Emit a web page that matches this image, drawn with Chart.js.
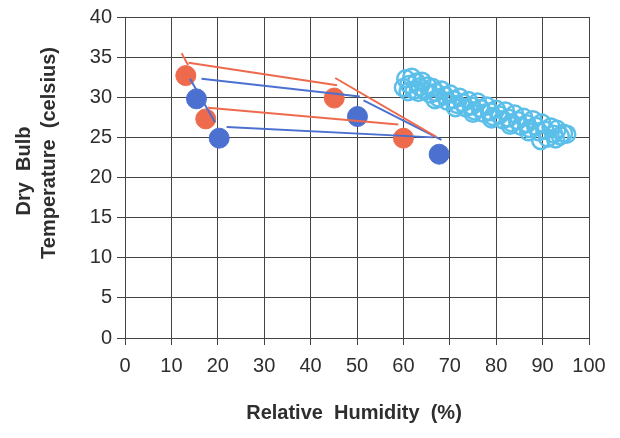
<!DOCTYPE html>
<html>
<head>
<meta charset="utf-8">
<script src="https://cdn.jsdelivr.net/npm/chart.js@4.4.1/dist/chart.umd.min.js"></script>
<style>
  html, body { margin: 0; padding: 0; background: #fff; }
  #wrap { width: 620px; height: 438px; }
</style>
</head>
<body>
<div id="wrap"><canvas id="chart" width="620" height="438"></canvas></div>
<script>
const X_TITLE = "Relative  Humidity  (%)";
const Y_TITLE = ["Dry  Bulb", "Temperature  (celsius)"];

// measured states (humidity %, temperature C)
const redX = [13.1, 17.4, 45.1, 60.0];
const redY = [32.7, 27.3, 29.9, 24.9];
const blueX = [15.4, 20.3, 50.1, 67.7];
const blueY = [29.8, 24.9, 27.6, 22.9];

// connecting lines: [x1, y1, x2, y2]
const redLines = [
  [12.2, 35.5, 13.6, 34.0],
  [13.7, 34.3, 45.7, 31.5],
  [45.3, 32.4, 67.0, 25.1],
  [17.9, 28.7, 58.9, 26.6],
];
const blueLines = [
  [14.0, 32.3, 19.4, 26.9],
  [16.5, 32.3, 50.6, 30.1],
  [51.4, 29.6, 68.2, 24.7],
  [21.9, 26.3, 66.4, 25.0],
];

// cloud of readings
const cyanX = [60.0, 60.5, 61.2, 61.8, 62.3, 62.8, 63.5, 64.0, 64.6, 65.2, 65.8, 66.3, 67.0, 67.6,
  68.2, 68.9, 69.5, 70.1, 70.8, 71.5, 72.1, 72.8, 73.4, 74.0, 74.7, 75.3, 76.0, 76.6, 77.3, 78.0,
  78.7, 79.3, 80.0, 80.7, 81.4, 82.0, 82.6, 83.3, 84.0, 84.6, 85.3, 85.9, 86.6, 87.2, 87.9, 88.5,
  89.2, 89.6, 89.8, 90.5, 91.1, 91.8, 92.4, 93.1, 93.8, 94.5, 95.2,
  61.0, 63.2, 66.8, 71.2, 75.0, 79.0, 83.0, 87.0, 92.8];
const cyanY = [31.2, 32.3, 31.6, 32.5, 30.9, 31.9, 31.3, 32.0, 30.8, 31.4, 30.4, 31.2, 30.6, 29.9,
  30.9, 30.2, 29.5, 30.4, 29.7, 29.1, 30.0, 29.3, 28.7, 29.6, 28.9, 28.3, 29.4, 28.6, 28.0, 28.9,
  28.2, 27.6, 28.5, 27.8, 27.2, 28.3, 27.4, 26.8, 27.9, 27.1, 26.4, 27.5, 26.7, 26.1, 27.2, 26.4,
  25.7, 24.6, 26.8, 25.9, 24.9, 26.3, 25.4, 26.0, 25.2, 25.5, 25.4,
  30.7, 30.6, 29.7, 28.7, 28.0, 27.3, 26.5, 25.7, 24.8];

const RED = "#ee6a4d";
const BLUE = "#4c70cf";
const CYAN = "#5bbfea";
const FONT = "'Liberation Sans', Arial, sans-serif";

function toPoints(xs, ys) {
  return xs.map(function (x, i) { return { x: x, y: ys[i] }; });
}

function lineDataset(seg, color) {
  return {
    type: "line",
    data: [{ x: seg[0], y: seg[1] }, { x: seg[2], y: seg[3] }],
    borderColor: color,
    borderWidth: 2,
    pointRadius: 0,
    fill: false,
    order: 0,
  };
}

function drawRotated(ctx, text, x, y) {
  ctx.save();
  ctx.translate(x, y);
  ctx.rotate(-Math.PI / 2);
  ctx.fillText(text, 0, 0);
  ctx.restore();
}

const axisTitles = {
  id: "axisTitles",
  afterDraw: function (chart) {
    const ctx = chart.ctx;
    const area = chart.chartArea;
    ctx.save();
    ctx.fillStyle = "#2e2e2e";
    ctx.font = "bold 20px " + FONT;
    ctx.textAlign = "center";
    ctx.textBaseline = "middle";
    ctx.fillText(X_TITLE, (area.left + area.right) / 2 - 3, 413);
    drawRotated(ctx, Y_TITLE[0], 24, 171);
    drawRotated(ctx, Y_TITLE[1], 49, 153);
    ctx.restore();
  },
};

const datasets = []
  .concat(redLines.map(function (s) { return lineDataset(s, RED); }))
  .concat(blueLines.map(function (s) { return lineDataset(s, BLUE); }))
  .concat([
    {
      data: toPoints(redX, redY),
      backgroundColor: RED,
      borderColor: RED,
      borderWidth: 1,
      pointRadius: 10,
      order: 1,
    },
    {
      data: toPoints(blueX, blueY),
      backgroundColor: BLUE,
      borderColor: BLUE,
      borderWidth: 1,
      pointRadius: 10,
      order: 1,
    },
    {
      data: toPoints(cyanX, cyanY),
      backgroundColor: "rgba(255,255,255,0)",
      borderColor: CYAN,
      borderWidth: 2.5,
      pointRadius: 8.5,
      order: 2,
    },
  ]);

new Chart(document.getElementById("chart"), {
  type: "scatter",
  data: { datasets: datasets },
  plugins: [axisTitles],
  options: {
    responsive: false,
    animation: false,
    events: [],
    layout: { padding: { left: 60, top: 16, right: 31, bottom: 0 } },
    plugins: { legend: { display: false }, tooltip: { enabled: false } },
    scales: {
      x: {
        type: "linear",
        min: 0,
        max: 100,
        afterFit: function (scale) { scale.height = 100; },
        ticks: {
          stepSize: 10,
          padding: 9,
          color: "#2e2e2e",
          font: { family: FONT, size: 20 },
          maxRotation: 0,
        },
        grid: { color: "#444", lineWidth: 1, tickLength: 7 },
        border: { color: "#444", width: 1 },
      },
      y: {
        type: "linear",
        min: 0,
        max: 40,
        afterFit: function (scale) { scale.width = 65; },
        ticks: {
          stepSize: 5,
          padding: 5,
          color: "#2e2e2e",
          font: { family: FONT, size: 20 },
        },
        grid: { color: "#444", lineWidth: 1, tickLength: 8 },
        border: { color: "#444", width: 1 },
      },
    },
  },
});
</script>
</body>
</html>
